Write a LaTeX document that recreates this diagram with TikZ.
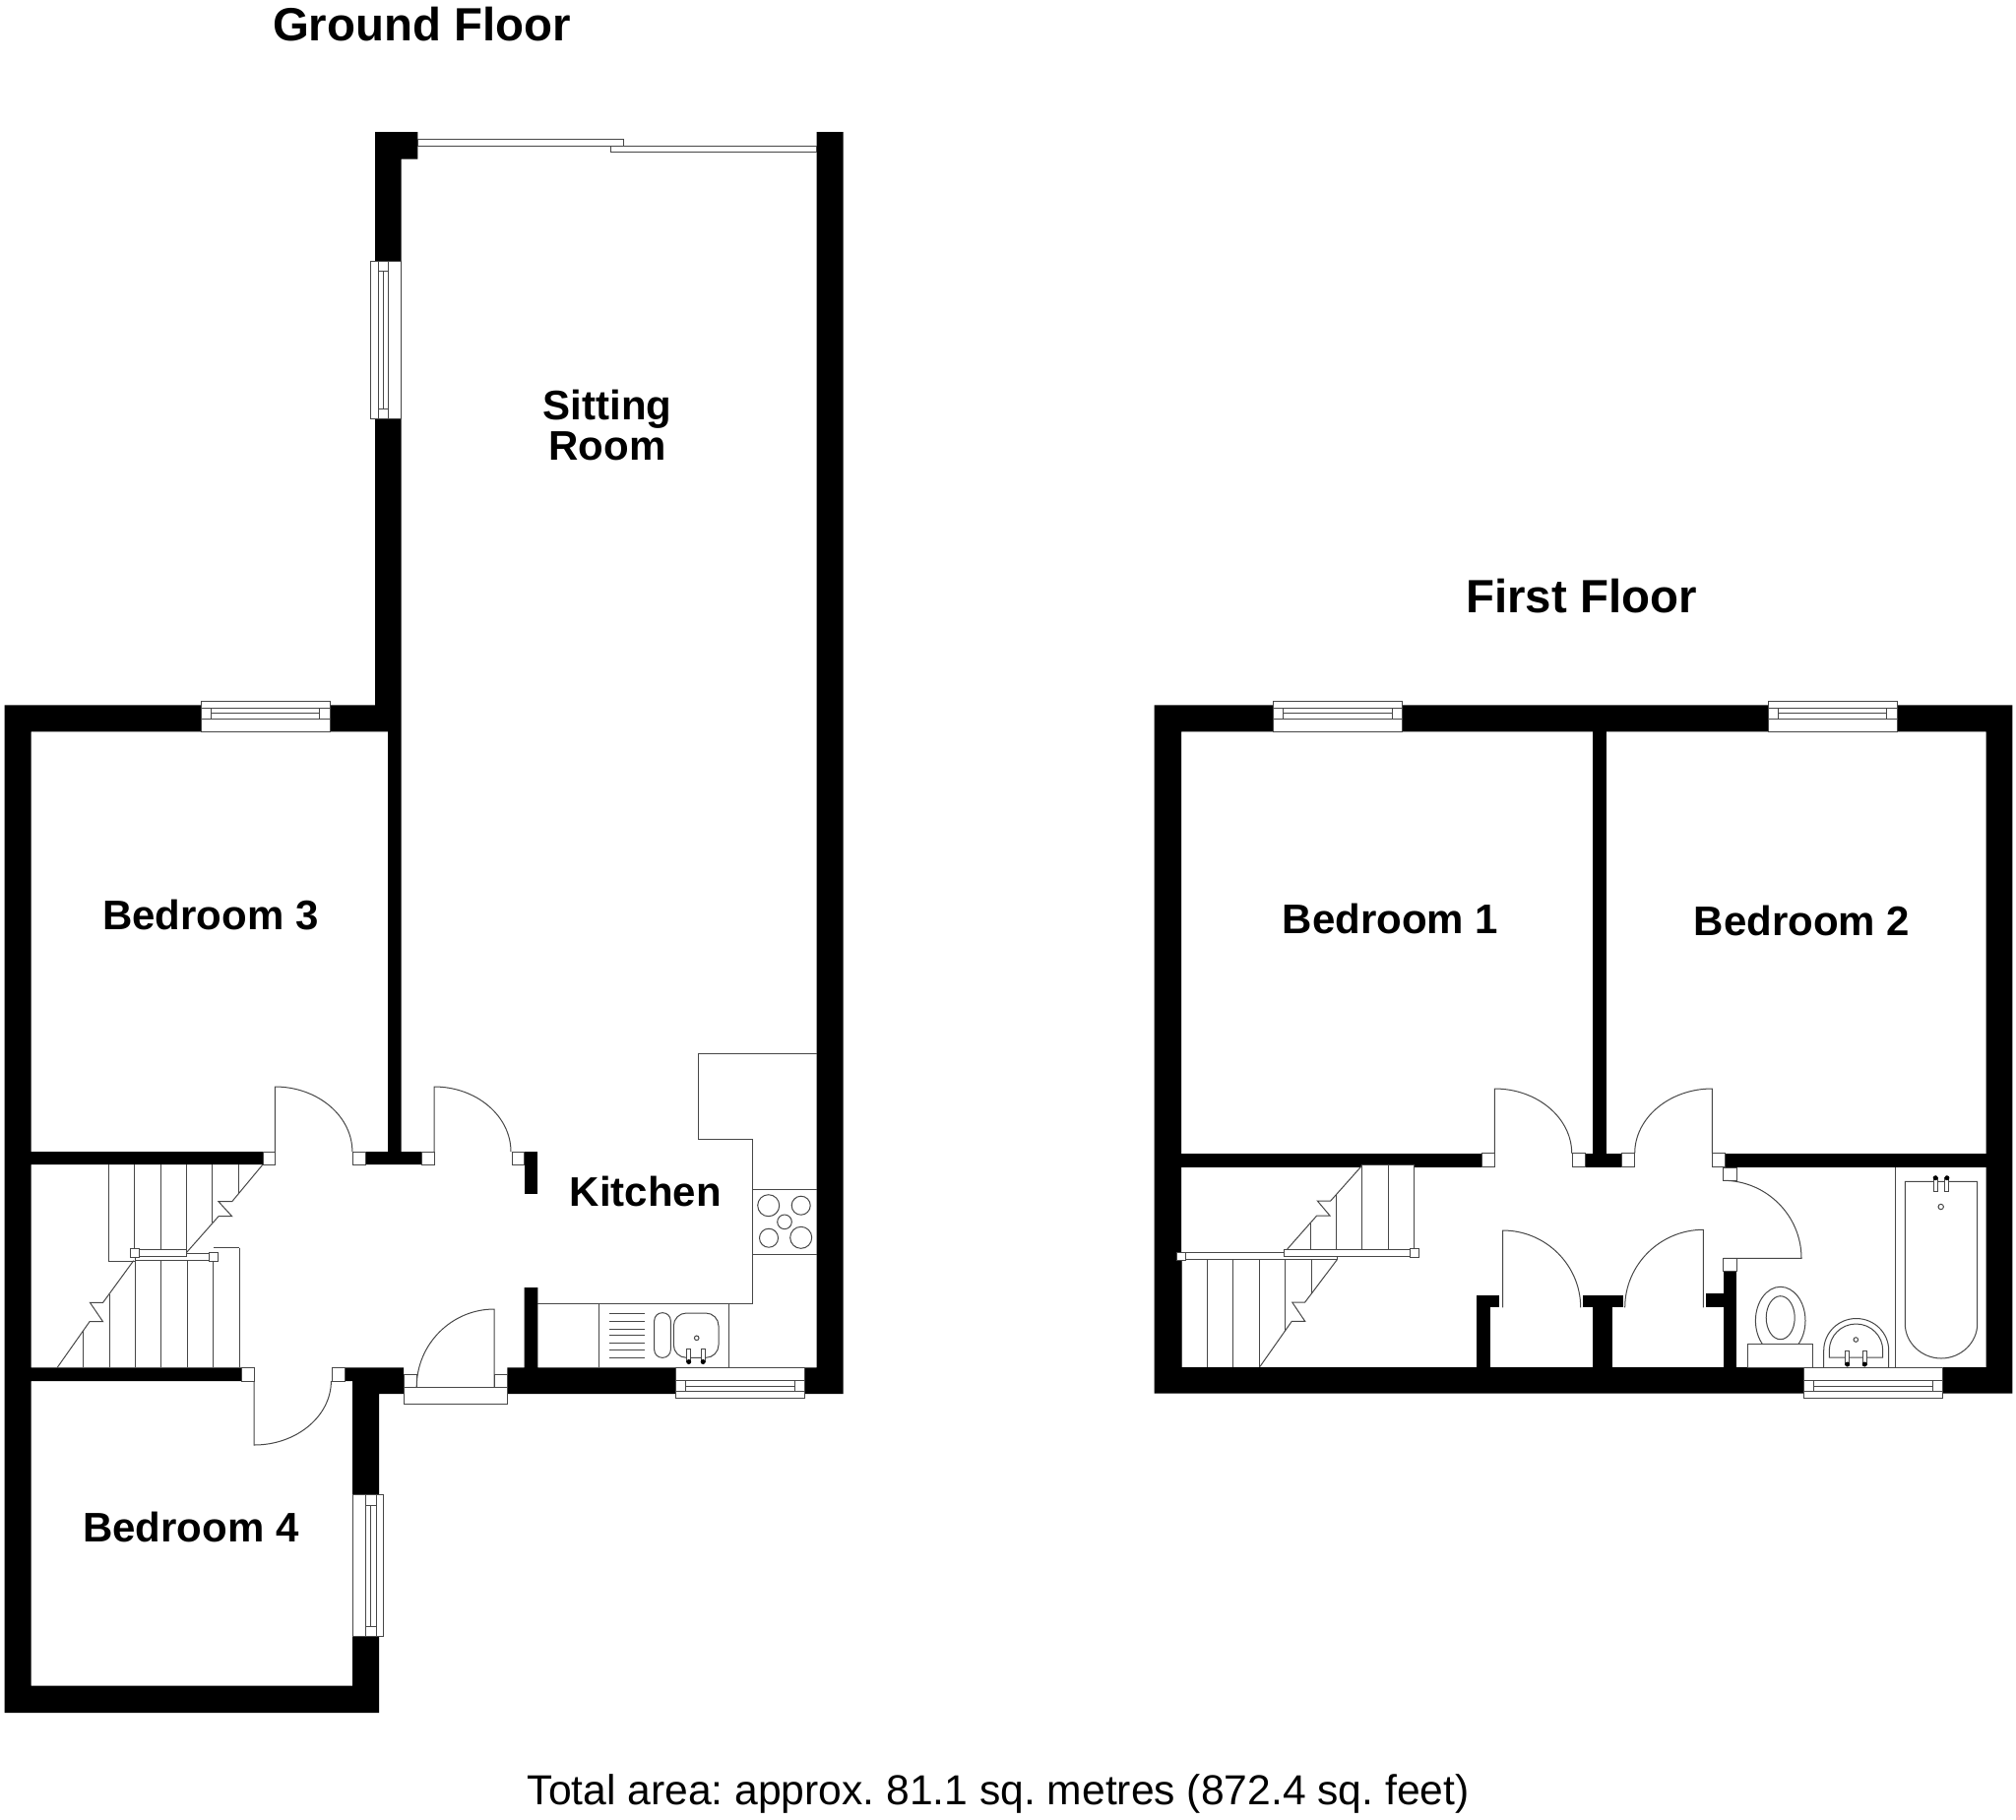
\documentclass[tikz,border=0pt]{standalone}
\usepackage{fontspec}
\setmainfont{Liberation Sans}

\begin{document}
\frenchspacing
\begin{tikzpicture}[x=1pt, y=-1pt,
    wall/.style = {fill=black},
    fixture/.style = {draw=black!72, line width=1pt, line join=miter},
    fixturewhite/.style = {fixture, fill=white},
    tapdot/.style = {fill=black},
    roomlabel/.style = {anchor=base, inner sep=0pt, font=\fontsize{42}{40.5}\selectfont\bfseries},
    floorlabel/.style = {anchor=base, inner sep=0pt, font=\fontsize{47.4}{50}\selectfont\bfseries},
    arealabel/.style = {anchor=base, inner sep=0pt, font=\fontsize{42.6}{50}\selectfont}]
    \useasboundingbox [fill=white] (0,0) rectangle (2048,1848);

    \fill [wall] (4.7,716.3) -- (381,716.3) -- (381,134) -- (424.3,134) -- (424.3,161.7) -- (407.5,161.7)
        -- (407.5,1170) -- (428,1170) -- (428,1183) -- (371.4,1183) -- (371.4,1170) -- (394,1170) -- (394,743.3)
        -- (31.5,743.3) -- (31.5,1170) -- (267,1170) -- (267,1183) -- (31.5,1183) -- (31.5,1389.3)
        -- (245.7,1389.3) -- (245.7,1403) -- (31.5,1403) -- (31.5,1712.7) -- (358,1712.7) -- (358,1403)
        -- (350.7,1403) -- (350.7,1389.3) -- (410,1389.3) -- (410,1416) -- (385,1416) -- (385,1740) -- (4.7,1740) -- cycle;
    \fill [wall] (515.4,1389.3) -- (532.5,1389.3) -- (532.5,1308) -- (546.4,1308) -- (546.4,1389.3) -- (829.5,1389.3)
        -- (829.5,134) -- (856.7,134) -- (856.7,1416) -- (515.4,1416) -- cycle;
    \fill [wall] (532.5,1170) rectangle (546.4,1213.3);

    \fill [wall, even odd rule] (1172.7,716.3) rectangle (2044.3,1415.7) (1200,743.3) rectangle (2017.5,1389);
    \fill [wall] (1618.3,743.3) rectangle (1631.7,1171.7);
    \fill [wall] (1200,1171.7) rectangle (1505,1185.7);
    \fill [wall] (1610,1171.7) rectangle (1647.3,1185.7);
    \fill [wall] (1752,1171.7) rectangle (2017.5,1185.7);
    \fill [wall] (1500,1315.7) rectangle (1523.3,1328.3);
    \fill [wall] (1500,1315.7) rectangle (1514,1389);
    \fill [wall] (1608.3,1315.7) rectangle (1649,1328.3);
    \fill [wall] (1618.3,1328) rectangle (1637.7,1389);
    \fill [wall] (1733.3,1314.3) rectangle (1750.7,1328);
    \fill [wall] (1750.7,1291.3) rectangle (1764.3,1389);

    \foreach \wx in {204, 1293.3, 1796} {
        \draw [fixturewhite] (\wx,712.3) rectangle (\wx+131.3,743.3);
        \draw [fixture] (\wx,719.5) -- (\wx+131.3,719.5);
        \draw [fixture] (\wx,730) -- (\wx+131.3,730);
        \draw [fixture] (\wx+10.5,719.5) -- (\wx+10.5,730);
        \draw [fixture] (\wx+120.8,719.5) -- (\wx+120.8,730);
        \draw [fixture] (\wx+10.5,724.5) -- (\wx+120.8,724.5);
    }
    \foreach \wx/\wl in {686.7/130.3, 1832/141.3} {
        \draw [fixturewhite] (\wx,1389.3) rectangle (\wx+\wl,1420);
        \draw [fixture] (\wx,1402.7) -- (\wx+\wl,1402.7);
        \draw [fixture] (\wx,1413.3) -- (\wx+\wl,1413.3);
        \draw [fixture] (\wx+10,1402.7) -- (\wx+10,1413.3);
        \draw [fixture] (\wx+\wl-10,1402.7) -- (\wx+\wl-10,1413.3);
        \draw [fixture] (\wx+10,1408) -- (\wx+\wl-10,1408);
    }
    \foreach \wa/\wb/\wc/\wd/\ya/\yb in {376.7/384/394.3/407.7/265/425.7, 358.6/371.4/382.5/389.3/1518.7/1662.7} {
        \draw [fixturewhite] (\wa,\ya) rectangle (\wd,\yb);
        \draw [fixture] (\wb,\ya) -- (\wb,\yb);
        \draw [fixture] (\wc,\ya) -- (\wc,\yb);
        \draw [fixture] (\wb,\ya+10.3) -- (\wc,\ya+10.3);
        \draw [fixture] (\wb,\yb-10.5) -- (\wc,\yb-10.5);
        \draw [fixture] ({(\wb+\wc)/2},\ya+10.3) -- ({(\wb+\wc)/2},\yb-10.5);
    }

    \draw [fixturewhite] (424.3,141) rectangle (633.3,148);
    \draw [fixturewhite] (620,148) rectangle (829.5,154.3);
    \draw [fixture] (620,148) -- (633.3,148);

    \foreach \xa/\ya/\xb/\yb in {267/1170/279.3/1183, 358/1170/371.4/1183, 428/1170/441/1183, 520/1170/532.5/1183,
        245.7/1389.3/258.2/1403, 337.5/1389.3/350.7/1403, 410/1396/423.2/1409.3, 502/1396/515.4/1409.3,
        1505/1171.7/1518.3/1185.7, 1597/1171.7/1610/1185.7, 1647.3/1171.7/1660.7/1185.7, 1739.3/1171.7/1752/1185.7,
        1750.7/1186/1764.3/1199.3, 1750.7/1278.3/1764.3/1291.3}
        \draw [fixturewhite] (\xa,\ya) rectangle (\xb,\yb);
    \draw [fixturewhite] (410,1409.3) rectangle (515.4,1426.7);

    \foreach \hx/\hy/\dx/\dy in {279.3/1170/78.6/-66, 441/1170/78/-66, 258.2/1403/78.2/65, 502/1409.3/-78.8/-79.3,
        1518.3/1171.7/78.4/-65.7, 1739.3/1171.7/-78.6/-65.7, 1526.7/1328.3/79/-78.3, 1730.3/1328.3/-79.6/-79}
        \draw [fixture] (\hx,\hy) -- (\hx,\hy+\dy) .. controls (\hx+.55*\dx,\hy+\dy) and (\hx+\dx,\hy+.55*\dy) .. (\hx+\dx,\hy);
    \draw [fixture] (1750.7,1278.3) -- (1830,1278.3) .. controls (1830,1234.8) and (1794.3,1199.3) .. (1750.7,1199.3);

    \foreach \sx/\sy in {110.7/1281.7, 136.8/1268, 163.2/1270, 189.3/1271.6, 215.7/1241.7, 242.1/1211.7}
        \draw [fixture] (\sx,1183) -- (\sx,\sy);
    \draw [fixture] (110.7,1281.7) -- (136.8,1281.7);
    \draw [fixture] (267,1183) -- (235.7,1220.7) -- (222,1220.7) -- (235.7,1235.7) -- (222,1235.7) -- (189.3,1272.7);
    \foreach \sx/\sy in {84.6/1351.7, 111/1315, 137.5/1280, 163.6/1280, 190.4/1280, 216.8/1272, 243.2/1267.7}
        \draw [fixture] (\sx,1389.3) -- (\sx,\sy);
    \draw [fixture] (216.8,1267.7) -- (243.2,1267.7);
    \draw [fixture] (58.2,1389.3) -- (91,1342.7) -- (104.6,1342.7) -- (91.4,1323.3) -- (104.6,1323.3) -- (135.7,1280.7);
    \draw [fixturewhite] (137.5,1273.3) rectangle (212.5,1280.7);
    \draw [fixturewhite] (141.8,1269.3) rectangle (189.3,1276.7);
    \draw [fixturewhite] (132.5,1268.3) rectangle (141.8,1277.7);
    \draw [fixturewhite] (212.5,1272.3) rectangle (221.4,1281.3);

    \draw [fixturewhite] (1383.5,1183.7) rectangle (1436.3,1269);
    \draw [fixture] (1410,1183.7) -- (1410,1269);
    \draw [fixture] (1357.7,1213.3) -- (1357.7,1269);
    \draw [fixture] (1331.7,1242.7) -- (1331.7,1269);
    \draw [fixture] (1383.5,1184.3) -- (1351.7,1220) -- (1338.3,1220) -- (1351,1235) -- (1337.7,1235) -- (1307.7,1269);
    \foreach \sx/\sy in {1200.7/1389, 1226.7/1389, 1252.7/1389, 1279.3/1389, 1305.7/1351.7, 1332.3/1314}
        \draw [fixture] (\sx,1279.7) -- (\sx,\sy);
    \draw [fixture] (1358.3,1279.7) -- (1325.7,1323) -- (1312.7,1323) -- (1325.7,1342.3) -- (1312.3,1342.3) -- (1280,1388.3);
    \draw [fixturewhite] (1204.3,1272.7) rectangle (1358.3,1279.7);
    \draw [fixturewhite] (1304.7,1269.3) rectangle (1432.7,1276);
    \draw [fixturewhite] (1432.3,1268.3) rectangle (1441.3,1277.7);
    \draw [fixturewhite] (1195.7,1272) rectangle (1204.3,1280.3);

    \draw [fixture] (829.5,1070.3) -- (709.3,1070.3) -- (709.3,1157.3) -- (764.3,1157.3) -- (764.3,1324) -- (546.4,1324);
    \draw [fixture] (608.7,1324) -- (608.7,1389.3);
    \draw [fixture] (740,1324) -- (740,1389.3);
    \draw [fixture] (764.3,1208.3) -- (829.5,1208.3);
    \draw [fixture] (764.3,1274) -- (829.5,1274);
    \foreach \cx/\cy/\cr in {780.7/1224.7/11, 813.7/1224.7/9.5, 797/1241.3/7.3, 781/1257.7/9.5, 813.7/1257.3/11}
        \draw [fixture] (\cx,\cy) circle [radius=\cr];
    \foreach \sy in {1334.3, 1342.3, 1350.3, 1356.7, 1364.7, 1371, 1379.3}
        \draw [fixture] (618.7,\sy) -- (655,\sy);
    \draw [fixture, rounded corners=8pt] (664.7,1333.7) rectangle (681.3,1379.3);
    \draw [fixture, rounded corners=13pt] (684.3,1334) rectangle (730,1379.3);
    \draw [fixture] (707.7,1359.3) circle [radius=2.3];

    \draw [fixture, line width=1.4pt] (1925.7,1186) -- (1925.7,1389);
    \draw [fixture] (1935.3,1200.3) -- (2008.7,1200.3) -- (2008.7,1345)
        .. controls (2008.7,1364) and (1992,1380) .. (1972,1380) .. controls (1952,1380) and (1935.3,1364) .. (1935.3,1345) -- cycle;
    \draw [fixture] (1971.7,1226) circle [radius=2.7];
    \draw [fixture] (1808.7,1341.7) ellipse [x radius=25.3, y radius=34.4];
    \draw [fixture] (1808.7,1338.7) ellipse [x radius=14.5, y radius=22];
    \draw [fixturewhite] (1775.3,1365.3) rectangle (1841.3,1389);
    \draw [fixture] (1852.7,1389) -- (1852.7,1372) .. controls (1852.7,1354) and (1867.5,1339.5) .. (1885.7,1339.5)
        .. controls (1904,1339.5) and (1918.7,1354) .. (1918.7,1372) -- (1918.7,1389);
    \draw [fixture] (1858.3,1379) -- (1858.3,1372) .. controls (1858.3,1357) and (1870.5,1345) .. (1885.5,1345)
        .. controls (1900.5,1345) and (1912.7,1357) .. (1912.7,1372) -- (1912.7,1379) -- cycle;
    \draw [fixture] (1885.3,1361) circle [radius=2.3];
    \foreach \tx/\ty/\dy in {699.7/1370/1383.5, 714.2/1370/1383.5, 1876.7/1372/1386, 1894.2/1372/1386} {
        \draw [fixturewhite] (\tx-2,\ty) rectangle (\tx+2,\dy);
        \fill [tapdot] (\tx,\dy) circle [radius=2.5];
    }
    \foreach \tx in {1966.2, 1977.9} {
        \draw [fixturewhite] (\tx-2,1196.7) rectangle (\tx+2,1210.3);
        \fill [tapdot] (\tx,1196.7) circle [radius=2.5];
    }

    \node (groundtitle) at (428.4,41) [floorlabel] {Ground Floor};
    \node (firsttitle) at (1606.4,622) [floorlabel] {First Floor};
    \node (sitting) at (617,432) [roomlabel, anchor=center, align=center] {Sitting\\Room};
    \node (bedthree) at (214,944) [roomlabel] {Bedroom 3};
    \node (bedfour) at (193.8,1566) [roomlabel] {Bedroom 4};
    \node (kitchen) at (655.8,1225) [roomlabel] {Kitchen};
    \node (bedone) at (1412.5,948) [roomlabel] {Bedroom 1};
    \node (bedtwo) at (1830.4,950.5) [roomlabel] {Bedroom 2};
    \node (totalarea) at (1014.2,1833.5) [arealabel] {Total area: approx. 81.1 sq. metres (872.4 sq. feet)};
\end{tikzpicture}
\end{document}
